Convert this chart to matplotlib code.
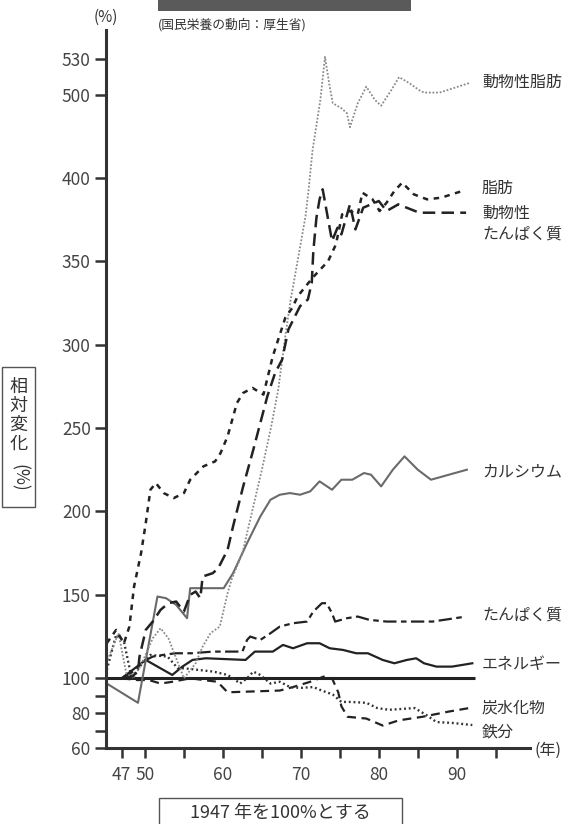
import matplotlib
matplotlib.use("Agg")
import matplotlib.pyplot as plt
import numpy as np
from matplotlib.patches import Rectangle

plt.rcParams["font.family"] = ["Noto Sans CJK JP", "DejaVu Sans"]

# ---- data (1947 = 100) ----
anfat_years = [45.2, 46.6, 47.6, 48.5, 49.5, 51.0, 52.0, 53.0, 54.0, 55.0, 56.5, 57.4, 58.4, 59.6,
               60.0, 60.6, 61.1, 62.5, 63.7, 65.0, 66.2, 67.1, 68.0, 68.7, 70.0, 70.6, 71.0, 71.5,
               72.5, 73.1, 73.7, 74.1, 75.2, 75.9, 76.3, 77.3, 78.4, 79.5, 80.3, 81.6, 82.6, 83.9,
               85.2, 85.8, 87.8, 91.6]
anfat_vals = [111, 127, 103, 100, 108, 124, 130, 124, 112, 100, 109, 119, 127, 131,
              139, 151, 159, 175, 199, 225, 251, 273, 305, 327, 361, 377, 393, 433,
              494, 532, 507, 490, 484, 478, 461, 490, 507, 494, 487, 504, 515, 510,
              504, 502, 502, 510]

fat_years = [45.1, 46.3, 47.3, 48.0, 48.6, 49.5, 50.1, 50.7, 51.4, 52.4, 53.7, 55.0, 55.8, 57.5,
             59.0, 59.7, 60.6, 61.8, 62.6, 63.8, 65.2, 66.4, 68.0, 68.9, 69.6, 70.3, 71.5, 72.5,
             73.5, 74.5, 75.3, 76.3, 77.3, 77.9, 79.2, 80.1, 81.0, 82.0, 83.0, 84.5, 86.2, 88.0,
             90.7]
fat_vals = [121, 129, 121, 131, 155, 175, 193, 213, 217, 211, 208, 211, 219, 227,
            230, 235, 245, 265, 271, 274, 270, 293, 316, 322, 329, 333, 340, 345,
            350, 360, 378, 380, 378, 391, 387, 380, 385, 392, 397, 390, 387, 388,
            392]

anprot_years = [45.1, 47.0, 48.3, 49.1, 49.3, 50.1, 51.0, 52.0, 53.0, 54.0, 55.0, 55.8, 56.5, 57.1,
                57.4, 58.7, 59.4, 60.6, 61.3, 62.6, 63.9, 64.8, 65.7, 66.7, 67.6, 68.4, 69.9, 70.9,
                71.4, 71.6, 72.0, 72.4, 72.8, 74.0, 74.7, 75.2, 76.3, 77.0, 78.0, 80.0, 81.0, 82.5,
                85.2, 91.2]
anprot_vals = [100, 100, 101, 104, 113, 129, 134, 141, 145, 146, 140, 150, 152, 148,
               161, 163, 166, 177, 191, 215, 237, 253, 269, 283, 291, 309, 323, 327,
               337, 356, 376, 387, 393, 362, 370, 366, 384, 369, 382, 386, 380, 384,
               379, 379]

calc_years = [45.1, 49.1, 51.6, 52.7, 54.0, 55.4, 55.8, 60.1, 61.3, 63.1, 64.8, 66.1, 67.3, 68.6,
              69.9, 71.2, 72.4, 74.0, 75.2, 76.6, 78.1, 79.0, 80.3, 81.8, 83.3, 85.0, 86.7, 89.0,
              91.3]
calc_vals = [97, 86, 149, 148, 144, 136, 154, 154, 163, 181, 197, 207, 210, 211,
             210, 212, 218, 213, 219, 219, 223, 222, 215, 225, 233, 225, 219, 222,
             225]

prot_years = [47.0, 48.5, 49.7, 51.0, 52.3, 53.9, 56.0, 58.7, 62.5, 63.1, 63.5, 64.8, 66.1, 67.3,
              69.0, 70.8, 71.6, 72.7, 73.3, 74.0, 74.4, 75.9, 77.3, 78.8, 81.0, 83.9, 86.9, 91.2]
prot_vals = [100, 104, 110, 113, 114, 115, 115, 116, 116, 123, 125, 123, 127, 131,
             133, 134, 140, 145, 145, 139, 134, 136, 137, 135, 134, 134, 134, 137]

energy_years = [47.0, 50.1, 53.5, 54.8, 56.1, 57.8, 62.9, 64.1, 66.4, 67.7, 69.0, 70.8, 72.4, 73.7,
                75.4, 77.1, 78.6, 80.5, 82.0, 83.6, 84.8, 85.8, 87.4, 89.4, 92.0]
energy_vals = [100, 111, 102, 107, 111, 112, 111, 116, 116, 120, 118, 121, 121, 118,
               117, 115, 115, 111, 109, 111, 112, 109, 107, 107, 109]

carb_years = [47.0, 49.0, 50.5, 52.0, 53.5, 55.8, 59.3, 60.6, 67.3, 69.0, 71.2, 72.4, 72.9, 74.0,
              74.8, 75.2, 76.0, 78.4, 80.5, 82.6, 85.6, 89.0, 91.6]
carb_vals = [100, 99, 99, 97, 98, 100, 98, 92, 93, 95, 98, 100, 101, 100,
             92, 84, 78, 77, 73, 76, 78, 81, 83]

iron_years = [45.1, 46.3, 47.3, 48.3, 49.5, 50.7, 52.9, 54.2, 55.0, 58.8, 60.6, 61.6, 62.2, 63.1,
              63.9, 64.8, 66.1, 67.3, 68.6, 69.9, 71.6, 72.4, 74.1, 75.2, 76.3, 78.4, 79.8, 81.3,
              84.6, 86.1, 87.4, 89.4, 92.0]
iron_vals = [105, 126, 122, 100, 108, 114, 113, 106, 106, 104, 102, 99, 97, 100,
             104, 102, 97, 98, 95, 94.5, 95, 93.5, 90.7, 86.5, 86.5, 86, 83, 82,
             83, 79, 75, 74.5, 73.3]

base_years = [45, 92.3]
base_value = 100

x_major = [47, 50, 55, 60, 65, 70, 75, 80, 85, 90, 95]
x_labels = ["47", "50", "", "60", "", "70", "", "80", "", "90", ""]
y_major = [60, 70, 80, 90, 100, 150, 200, 250, 300, 350, 400, 500, 530]
y_labels = ["60", "", "80", "", "100", "150", "200", "250", "300", "350", "400", "500", "530"]

# piecewise scale of the printed axis (value -> relative height)
scale_vals = [0, 60, 100, 400, 500, 530, 1000]
scale_pos = [-105, 0, 70, 570.6, 653.3, 689, 1248]


def fwd(v):
    return np.interp(v, scale_vals, scale_pos)


def inv(p):
    return np.interp(p, scale_pos, scale_vals)


W, H = 563, 824
INK = "#333333"


def px(x, y):
    return x / W, 1 - y / H


fig = plt.figure(figsize=(W / 100, H / 100), dpi=100)
ax = fig.add_axes([106 / W, 1 - 748.3 / H, (530 - 106) / W, (748.3 - 30) / H])
ax.set_yscale("function", functions=(fwd, inv))
ax.set_xlim(45, 99.4)
ax.set_ylim(60, 554.6)

ax.plot(base_years, [base_value] * 2, color="#222222", lw=2.2, solid_capstyle="butt")
ax.plot(carb_years, carb_vals, color="#222222", lw=1.6, ls=(0, (4, 2.5)))
ax.plot(iron_years, iron_vals, color="#333333", lw=1.7, ls=(0, (0.8, 1.2)))
ax.plot(energy_years, energy_vals, color="#222222", lw=1.6)
ax.plot(prot_years, prot_vals, color="#222222", lw=1.6, ls=(0, (6, 2, 2.5, 2)))
ax.plot(calc_years, calc_vals, color="#6a6a6a", lw=1.5)
ax.plot(anfat_years, anfat_vals, color="#8a8a8a", lw=1.3, ls=(0, (1, 1)))
ax.plot(anprot_years, anprot_vals, color="#222222", lw=1.8, ls=(0, (5, 2.5)))
ax.plot(fat_years, fat_vals, color="#222222", lw=1.8, ls=(0, (2.2, 2.2)))

for s in ["top", "right"]:
    ax.spines[s].set_visible(False)
for s in ["left", "bottom"]:
    ax.spines[s].set_linewidth(2.2)
    ax.spines[s].set_color(INK)

ax.set_xticks(x_major)
ax.set_xticklabels(x_labels)
ax.set_yticks(y_major)
ax.set_yticklabels(y_labels)
ax.minorticks_off()
ax.tick_params(axis="both", direction="out", width=1.8, color=INK, labelcolor="#444444",
               labelsize=12.5)
ax.tick_params(axis="x", length=7, pad=6)
ax.tick_params(axis="y", length=8, pad=3)

# right-hand series labels
labels = [("動物性脂肪", 82), ("脂肪", 188), ("動物性", 213), ("たんぱく質", 234),
          ("カルシウム", 472), ("たんぱく質", 615), ("エネルギー", 665),
          ("炭水化物", 708), ("鉄分", 732)]
for txt, yy in labels:
    fig.text(*px(482, yy), txt, fontsize=11.5, color=INK, va="center", ha="left")

fig.text(*px(106, 17), "(%)", fontsize=11, color=INK, va="center", ha="center")
fig.text(*px(158, 25), "(国民栄養の動向：厚生省)", fontsize=9.2, color=INK, va="center", ha="left")
fig.text(*px(534, 750), "(年)", fontsize=11.5, color=INK, va="center", ha="left")

# dark banner at the top (title cut off)
fig.patches.append(Rectangle(px(158, 11), 253 / W, 11 / H, transform=fig.transFigure,
                             facecolor="#5a5a5a", edgecolor="none"))

# vertical y label in a box
fig.patches.append(Rectangle(px(2, 507), 33 / W, 140 / H, transform=fig.transFigure,
                             facecolor="none", edgecolor="#555555", lw=1))
for ch, yy in zip("相対変化", [387, 406, 425, 444]):
    fig.text(*px(18.5, yy), ch, fontsize=13, color=INK, ha="center", va="center")
fig.text(*px(18.5, 478), "(%)", fontsize=12.5, color=INK, ha="center", va="center", rotation=-90)

# bottom note box
fig.patches.append(Rectangle(px(159, 830), 243 / W, 32 / H, transform=fig.transFigure,
                             facecolor="none", edgecolor="#555555", lw=1))
fig.text(*px(280, 813), "1947 年を100%とする", fontsize=13, color=INK, ha="center", va="center")

fig.savefig("out.png", dpi=100)
